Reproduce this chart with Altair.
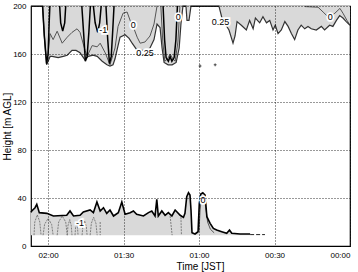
import altair as alt
import pandas as pd

# ---------- data (time = minutes after 00:00 JST, height = m AGL) ----------
# lower edge of upper shaded region
top_edge_t = [126.8, 122.2, 121.5, 120.6, 119.2, 118.4, 116.0, 114.0, 112.4, 110.5, 108.9, 107.3,
              105.3, 104.1, 102.1, 100.5, 98.5, 96.6, 95.4, 94.2, 93.4, 92.2, 91.4, 89.4, 87.8,
              86.6, 84.6, 82.6, 80.5, 79.5, 77.9, 76.7, 75.5, 74.7, 73.9, 72.3, 70.7, 69.1, 67.9,
              67.2, 66.4, 65.2, 64.8, 64.0, 63.2, 52.1, 50.9, 49.3, 48.1, 46.5, 45.7, 44.9, 43.2,
              41.2, 39.9, 38.5, 37.6, 35.9, 34.6, 33.2, 31.9, 30.6, 29.7, 28.6, 27.3, 25.9, 24.6,
              23.3, 22.0, 20.7, 19.4, 18.0, 16.7, 15.4, 13.4, 11.4, 10.1, 8.1, 6.8, 5.4, 4.1, 2.8,
              1.5, 0.0]
top_edge_h = [200, 200, 175, 151, 158, 158, 157, 158, 159, 163, 163, 161,
              155, 158, 159, 158, 154, 151, 150, 151, 156, 167, 174, 176, 173,
              169, 163, 163, 163, 165, 172, 185, 182, 165, 153, 151, 151, 153, 165,
              185, 200, 200, 188, 188, 200, 200, 190, 184, 180, 169, 175, 187, 184,
              180, 188, 181, 190, 186, 191, 186, 188, 180, 184, 177, 180, 187, 183,
              177, 172, 180, 184, 181, 183, 181, 180, 183, 180, 184, 183, 188, 192, 190,
              187, 184]

# "0" contour, upper left
zero_t = [120.0, 119.2, 118.0, 116.4, 114.4, 112.4, 110.5, 108.5, 107.3, 105.3, 104.5, 102.5,
          100.5, 99.3, 97.3, 95.4, 93.4, 92.2, 90.2, 88.6, 87.4, 86.2, 84.6, 83.4, 81.5, 79.5,
          77.9, 76.7]
zero_h = [160, 177, 172, 179, 169, 174, 178, 181, 178, 163, 158, 167,
          166, 169, 161, 151, 165, 183, 194, 195, 188, 183, 174, 169, 170, 175,
          185, 200]

# "0" contour, upper right
zero_r_t = [17.9, 12.7, 10.7, 9.1, 7.9, 6.0, 4.0, 2.8, 1.2, 0.0]
zero_r_h = [199.5, 199, 195, 191.7, 191, 194, 198, 194, 188, 184]

# "-1" contour loops hanging from the top
neg_g = ["A"] * 6 + ["B"] * 5 + ["C"] * 6 + ["D"] * 5 + ["E"] * 6 + ["F"] * 9
neg_t = [122.2, 121.5, 120.6, 120.0, 119.6, 119.3,
         115.4, 115.0, 114.2, 113.4, 113.0,
         106.6, 105.9, 105.2, 104.5, 103.8, 103.2,
         102.0, 101.3, 100.3, 99.5, 98.9,
         97.0, 96.3, 95.6, 94.9, 94.3, 93.8,
         74.3, 73.7, 73.1, 72.2, 71.5, 70.8, 69.9, 69.2, 68.6]
neg_h = [200, 175, 152, 160, 185, 200,
         200, 186, 179, 186, 200,
         200, 178, 154, 158, 178, 200,
         200, 186, 178, 186, 200,
         200, 172, 152, 158, 180, 200,
         200, 172, 157, 154, 158, 154, 157, 172, 200]

# inner grey line in the deep trough near 01:12
trough_t = [75.2, 74.4, 73.6, 72.5, 71.5, 70.4, 69.5, 68.4, 67.6]
trough_h = [200, 170, 154, 156, 160, 156, 154, 170, 200]

# upper edge of the lower shaded layer (thick line)
low_t = [126.8, 126.5, 125.2, 124.5, 123.5, 120.5, 117.9, 112.6, 111.3, 109.9, 107.3, 106.0,
         103.3, 102.0, 100.6, 99.3, 98.0, 96.7, 95.4, 94.0, 92.1, 90.7, 89.4, 87.4, 86.1,
         84.8, 82.1, 80.1, 78.8, 77.5, 76.8, 76.2, 74.8, 73.5, 72.2, 70.8, 69.5, 67.5, 66.2,
         65.6, 64.9, 64.2, 63.6, 63.2, 62.8, 61.6, 60.4, 59.9, 59.3, 58.5, 57.6, 56.9, 55.6,
         54.3, 53.0, 51.0, 49.0, 47.9, 47.0, 43.7, 39.7]
low_h = [28, 29.2, 31.9, 34.7, 27.8, 27.2, 25, 25.6, 29.2, 25, 25.6, 28.3,
         30, 27.8, 36.7, 29.2, 31.9, 27.2, 30, 25, 27.8, 36.7, 26.4, 27.8, 29.2,
         26.4, 25, 27.8, 29.2, 25, 38.9, 25, 29.2, 25.6, 27.8, 25, 30, 25.6, 23.9,
         27.2, 41.1, 44.4, 42.5, 30, 11.1, 10, 11.9, 35.6, 43.3, 44.4, 42.5, 24.4, 18.9,
         14.7, 13.3, 11.9, 10.6, 13.3, 10.6, 10, 10]

# dashed tail of the lower layer
tail_t = [39.7, 33.8]
tail_h = [9.5, 9.5]

# thin inner line of the 00:58 spike
spike_t = [60.0, 59.6, 59.0, 58.0, 57.2, 56.6, 55.5, 54.0]
spike_h = [12, 30, 41, 41, 30, 20, 14, 11]

# thin dashed arcs inside the lower layer
arc_g = ["a"] * 5 + ["b"] * 5 + ["c"] * 5 + ["d"] * 5 + ["e"] * 5 + ["f"] * 5 + ["g"] * 5 + ["h"] * 2 + ["i"] * 2 + ["j"] * 2
arc_t = [125.6, 125.3, 124.3, 123.3, 122.8,
         122.0, 121.4, 120.0, 118.6, 118.0,
         116.4, 115.8, 114.4, 113.0, 112.4,
         112.4, 112.1, 111.4, 110.8, 110.5,
         109.3, 109.1, 108.7, 108.3, 108.1,
         106.5, 106.2, 105.5, 104.8, 104.5,
         103.3, 102.8, 101.9, 101.0, 100.5,
         99.3, 99.3,
         71.5, 70.7,
         67.2, 67.0]
arc_h = [9, 20, 26, 20, 9,
         9, 18, 23, 18, 9,
         9, 20, 25, 20, 9,
         9, 17, 22, 17, 9,
         9, 15, 20, 15, 9,
         9, 16, 21, 16, 9,
         9, 19, 24, 19, 9,
         20, 9,
         25, 9,
         24, 9]

# contour labels
lab_text = ["-1", "0", "0.25", "0", "0.25", "0", "-1", "0"]
lab_t = [98.1, 86.2, 81.5, 68.3, 51.5, 7.9, 107.3, 58.4]
lab_h = [180, 184, 161, 191, 187, 191, 19, 38]

# stray points
dot_t = [59.6, 53.6]
dot_h = [150, 151]

# ---------- tables ----------
top_df = pd.DataFrame({"t": top_edge_t, "h": top_edge_h})
top_df["top"] = 200
low_df = pd.DataFrame({"t": low_t, "h": low_h})
low_df["base"] = 9
zero_df = pd.concat([
    pd.DataFrame({"t": zero_t, "h": zero_h, "g": "L"}),
    pd.DataFrame({"t": zero_r_t, "h": zero_r_h, "g": "R"}),
    pd.DataFrame({"t": trough_t, "h": trough_h, "g": "T"}),
    pd.DataFrame({"t": spike_t, "h": spike_h, "g": "S"}),
])
zero_df["i"] = range(len(zero_df))
neg_df = pd.DataFrame({"t": neg_t, "h": neg_h, "g": neg_g})
neg_df["i"] = range(len(neg_df))
arc_df = pd.DataFrame({"t": arc_t, "h": arc_h, "g": arc_g})
arc_df["i"] = range(len(arc_df))
tail_df = pd.DataFrame({"t": tail_t, "h": tail_h})
lab_df = pd.DataFrame({"text": lab_text, "t": lab_t, "h": lab_h})
dot_df = pd.DataFrame({"t": dot_t, "h": dot_h})

FONT = "Liberation Sans"
xs = alt.Scale(domain=[0, 126.8], reverse=True, nice=False, zero=False)
ys = alt.Scale(domain=[0, 200], nice=False)

time_expr = ("datum.value % 30 == 0 ? (floor(datum.value/60) < 10 ? '0' : '') + floor(datum.value/60)"
             " + ':' + (datum.value % 60 < 10 ? '0' : '') + (datum.value % 60) : ''")

X = alt.X("t:Q", scale=xs, title="Time [JST]",
          axis=alt.Axis(values=list(range(0, 121, 15)), labelExpr=time_expr, grid=True,
                        gridDash=[1, 2], gridColor="#000", gridOpacity=0.8, ticks=False,
                        domain=False, labelFontSize=8, labelPadding=5, titleFontSize=10,
                        titleFontWeight="normal", titlePadding=2, titleX=169,
                        labelFont=FONT, titleFont=FONT,
                        labelColor="#000", titleColor="#000", zindex=1))
Y = alt.Y("h:Q", scale=ys, title="Height [m AGL]",
          axis=alt.Axis(values=list(range(0, 201, 20)),
                        labelExpr="datum.value % 40 == 0 ? datum.label : ''", grid=True,
                        gridDash=[1, 2], gridColor="#000", gridOpacity=0.8, ticks=False,
                        domain=False, labelFontSize=8, labelPadding=5, titleFontSize=10,
                        titleFontWeight="normal", titlePadding=0, labelFont=FONT, titleFont=FONT,
                        labelColor="#000", titleColor="#000", zindex=1))

top_area = alt.Chart(top_df).mark_area(color="#d9d9d9").encode(x=X, y=Y, y2="top:Q")
top_line = alt.Chart(top_df).mark_line(color="#333", strokeWidth=1.2).encode(x="t:Q", y="h:Q")
low_area = alt.Chart(low_df).mark_area(color="#d9d9d9").encode(x="t:Q", y="h:Q", y2="base:Q")
low_line = alt.Chart(low_df).mark_line(color="#000", strokeWidth=1.6).encode(x="t:Q", y="h:Q")
tail_line = alt.Chart(tail_df).mark_line(color="#222", strokeWidth=1, strokeDash=[4, 2]).encode(x="t:Q", y="h:Q")
zero_line = alt.Chart(zero_df).mark_line(color="#555", strokeWidth=1).encode(
    x="t:Q", y="h:Q", detail="g:N", order="i:Q")
neg_line = alt.Chart(neg_df).mark_line(color="#000", strokeWidth=1.5).encode(
    x="t:Q", y="h:Q", detail="g:N", order="i:Q")
arc_line = alt.Chart(arc_df).mark_line(color="#666", strokeWidth=0.8, strokeDash=[2, 1]).encode(
    x="t:Q", y="h:Q", detail="g:N", order="i:Q")
dots = alt.Chart(dot_df).mark_point(shape="cross", size=8, filled=True, color="#000").encode(x="t:Q", y="h:Q")
lab_bg = alt.Chart(lab_df).mark_text(font=FONT, fontSize=9, color="#fff", stroke="#fff",
                                     strokeWidth=3.5).encode(x="t:Q", y="h:Q", text="text:N")
lab_fg = alt.Chart(lab_df).mark_text(font=FONT, fontSize=9, color="#000").encode(
    x="t:Q", y="h:Q", text="text:N")

chart = alt.layer(top_area, low_area, arc_line, zero_line, top_line, neg_line, low_line,
                  tail_line, dots, lab_bg, lab_fg).properties(
    width=319, height=240,
    autosize=alt.AutoSizeParams(type="none"),
    padding={"left": 31, "top": 6, "right": 8, "bottom": 26},
    background="#ffffff",
).configure_view(stroke="#000", strokeWidth=1.2)

chart.save("out.html", embed_options={"renderer": "svg", "actions": False})
